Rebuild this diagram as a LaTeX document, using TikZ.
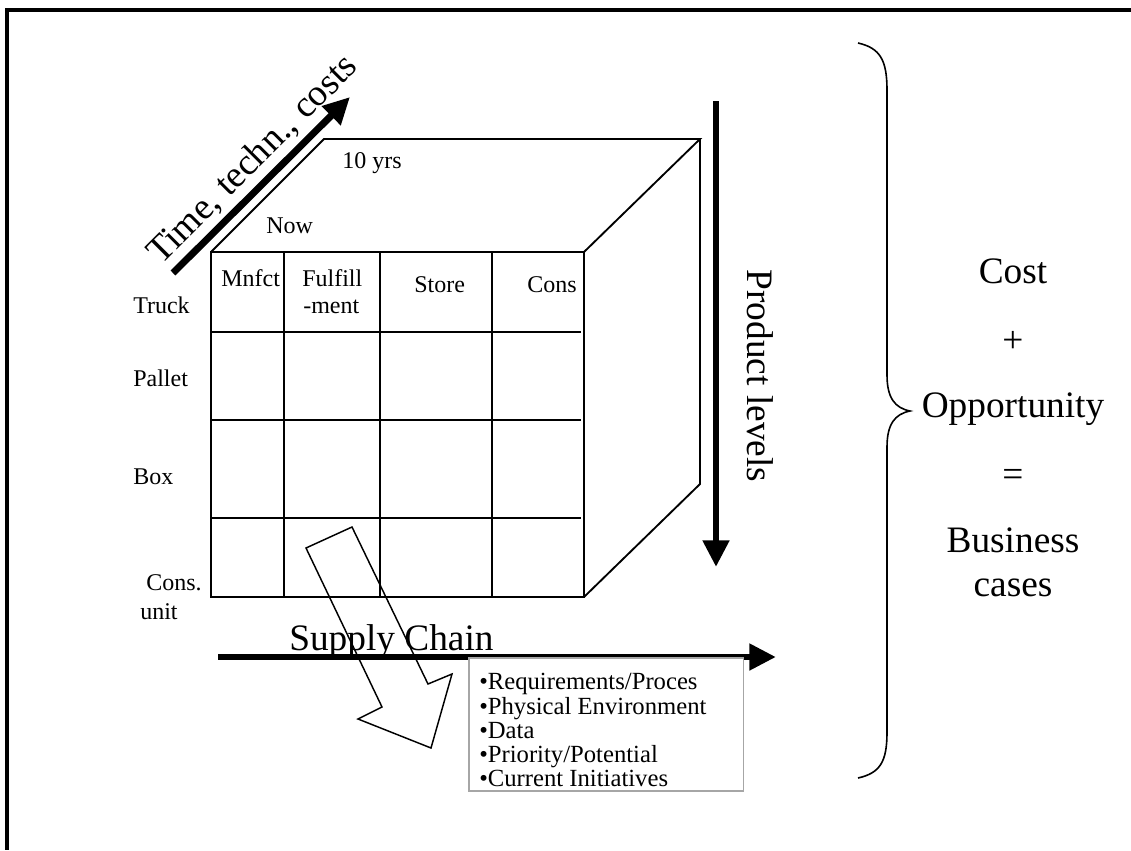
\documentclass[tikz,border=0pt]{standalone}
\usepackage{fontspec}
\setmainfont{Liberation Serif}
\newfontfamily\labelserif{Liberation Serif}
\usetikzlibrary{arrows.meta}
% large labels: 14pt text enlarged two times
\newcommand{\largelabel}[1]{\scalebox{2}{\labelserif\fontsize{14}{16}\selectfont #1}}
\begin{document}
\begin{tikzpicture}[x=0.75pt,y=-0.75pt,
  frame/.style={line width=3pt, line join=miter},
  cube/.style={line width=1.4pt, line join=miter},
  gridline/.style={line width=1.4pt},
  bigarrow/.style={line width=5.2pt, -{Triangle[length=20pt,width=19pt]}},
  small/.style={font=\labelserif\fontsize{18}{20}\selectfont, inner sep=0pt, anchor=base west},
  big/.style={inner sep=0pt},
  sum/.style={inner sep=0pt, anchor=base},
  hollow/.style={line width=1.1pt, line join=miter},
  listbox/.style={draw=black!35, line width=1.3pt, fill=white, inner sep=0pt},
  item/.style={font=\labelserif\fontsize{18.5}{20}\selectfont, inner sep=0pt, anchor=base west},
  brace/.style={line width=1.2pt}
]
\useasboundingbox (0,0) rectangle (1131,850);

% page frame (top and left rules)
\coordinate (fr1) at (1131,10);
\coordinate (fr2) at (7,10);
\coordinate (fr3) at (7,850);
\draw[frame] (fr1) -- (fr2) -- (fr3);

% cube corners
\coordinate (ftl) at (211,252);
\coordinate (ftr) at (584,252);
\coordinate (fbr) at (584,597);
\coordinate (fbl) at (211,597);
\coordinate (btl) at (324,139);
\coordinate (btr) at (700,139);
\coordinate (bbr) at (700,484);

% cube outline
\draw[cube] (ftl) -- (ftr) -- (fbr) -- (fbl) -- cycle;
\draw[cube] (ftl) -- (btl) -- (btr) -- (ftr);
\draw[cube] (btr) -- (bbr) -- (fbr);

% front grid
\foreach \cx in {284,380,492} \draw[gridline] (\cx,252) -- (\cx,597);
\foreach \ry in {332,420,518} \draw[gridline] (211,\ry) -- (581,\ry);

% column headers
\node[small] (mnf) at (221,286) {Mnfct};
\node[small] (ful) at (302,286) {Fulfill};
\node[small] (men) at (303,313) {-ment};
\node[small] (sto) at (414,292) {Store};
\node[small] (con) at (527,292) {Cons};

% row labels
\node[small] (tru) at (133,313) {Truck};
\node[small] (pal) at (133,386) {Pallet};
\node[small] (box) at (133,484) {Box};
\node[small] (cns) at (146,590) {Cons.};
\node[small] (uni) at (140,619) {unit};

% time labels on top face
\node[small] (now) at (266,233) {Now};
\node[small] (ten) at (342,168) {10 yrs};

% time axis
\coordinate (ta) at (173,273);
\coordinate (tb) at (350,97);
\draw[bigarrow] (ta) -- (tb);
\node[big, rotate=45, anchor=base] (ttl) at (260,167) {\largelabel{Time, techn., costs}};

% product level axis
\coordinate (pa) at (716,101);
\coordinate (pb) at (716,567);
\draw[bigarrow] (pa) -- (pb);
\node[big, rotate=-90, anchor=base] (ptl) at (747,376) {\largelabel{Product levels}};

% supply chain axis
\coordinate (sa) at (218,657);
\coordinate (sb) at (776,657);
\draw[bigarrow] (sa) -- (sb);
\node[big, anchor=base west] (stl) at (289,650) {\largelabel{Supply Chain}};

% list of aspects
\node[listbox, anchor=north west, minimum width=206pt, minimum height=100pt] (list) at (468,657) {};
\node[item] (l1) at (479,689) {•Requirements/Proces};
\node[item] (l2) at (479,714) {•Physical Environment};
\node[item] (l3) at (479,738) {•Data};
\node[item] (l4) at (479,762) {•Priority/Potential};
\node[item] (l5) at (479,786) {•Current Initiatives};

% hollow arrow pointing into the list
\draw[hollow] (306,548) -- (352,527) -- (428,684) -- (452,674) -- (431,748)
  -- (358,719) -- (382,707) -- cycle;

% curly brace
\draw[brace] (858,43) .. controls (880,48) and (887,60) .. (887,90)
  -- (887,375) .. controls (887,398) and (895,408) .. (910,411)
  .. controls (895,414) and (887,424) .. (887,447)
  -- (887,732) .. controls (887,762) and (880,773) .. (858,778);

% summary
\node[sum] (cst) at (1013,283) {\largelabel{Cost}};
\node[sum, anchor=center] (pls) at (1013,342) {\largelabel{+}};
\node[sum] (opp) at (1013,417) {\largelabel{Opportunity}};
\node[sum, anchor=center] (eql) at (1013,478) {\largelabel{=}};
\node[sum] (bus) at (1013,552) {\largelabel{Business}};
\node[sum] (cas) at (1013,596) {\largelabel{cases}};
\end{tikzpicture}
\end{document}
